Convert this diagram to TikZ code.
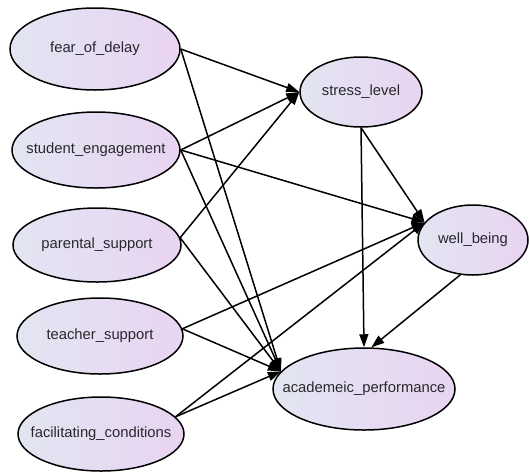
\documentclass[tikz,border=0pt]{standalone}
\usepackage{fontspec}
\setmainfont{Liberation Sans}
\usetikzlibrary{arrows.meta, shapes.geometric}
\definecolor{nodeleft}{RGB}{226,229,242}
\definecolor{noderight}{RGB}{233,212,241}
\definecolor{labelgray}{RGB}{40,40,45}
% label that does not widen its ellipse
\newcommand{\varlabel}[1]{\makebox[0pt][c]{#1}}

\begin{document}
\begin{tikzpicture}[x=1pt, y=-1pt, >={Triangle[length=13pt, width=9pt]},
  var/.style={ellipse, draw, line width=1.5pt, left color=nodeleft, right color=noderight,
    inner sep=0pt, text=labelgray, font=\fontsize{14.8}{17}\selectfont},
  effect/.style={->, line width=1.5pt}]
  \useasboundingbox (0,0) rectangle (529,472);

  % Predictors (left column)
  \node[var, minimum width=170, minimum height=82] (fear) at (95, 49) {\varlabel{fear\_of\_delay}};
  \node[var, minimum width=168, minimum height=76] (engage) at (96, 150) {\varlabel{student\_engagement}};
  \node[var, minimum width=168, minimum height=74] (parent) at (97, 245) {\varlabel{parental\_support}};
  \node[var, minimum width=166, minimum height=76] (teacher) at (100, 336) {\varlabel{teacher\_support}};
  \node[var, minimum width=166, minimum height=74] (facil) at (101, 434) {\varlabel{facilitating\_conditions}};

  % Mediators and outcome
  \node[var, minimum width=122, minimum height=70] (stress) at (361, 92) {\varlabel{stress\_level}};
  \node[var, minimum width=110, minimum height=70] (well) at (473, 240) {\varlabel{well\_being}};
  \node[var, minimum width=182, minimum height=82] (acad) at (364, 389) {\varlabel{academeic\_performance}};

  % Paths into stress_level
  \draw[effect] (fear.east) -- (stress.west);
  \draw[effect] (engage.east) -- (stress.west);
  \draw[effect] (parent.5) -- (stress.west);

  % Paths into well_being
  \draw[effect] (engage.east) -- (well.160);
  \draw[effect] (teacher.5) -- (well.160);
  \draw[effect] (facil.13) -- (well.160);
  \draw[effect] (stress.south) -- (well.160);

  % Paths into academeic_performance
  \draw[effect] (fear.east) -- (acad.168);
  \draw[effect] (engage.east) -- (acad.168);
  \draw[effect] (parent.5) -- (acad.168);
  \draw[effect] (teacher.5) -- (acad.168);
  \draw[effect] (facil.13) -- (acad.168);
  \draw[effect] (stress.south) -- (acad.north);
  \draw[effect] (well.250) -- (acad.80);
\end{tikzpicture}
\end{document}
